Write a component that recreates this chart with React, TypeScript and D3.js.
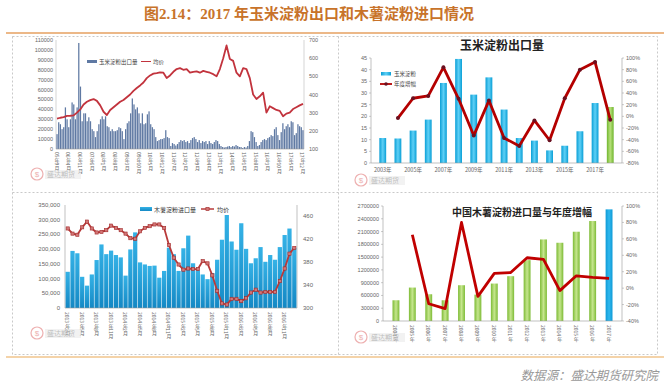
import * as d3 from "d3";

// ---------- top-left: monthly corn starch exports (t) and average price ----------
const tlExports = [
  15000, 27000, 25000, 20000, 22000, 42000, 30000, 22000, 30000, 47000, 45000, 30000, 42000, 107000, 63000, 28000,
  36000, 36000, 28000, 32000, 28000, 20000, 18000, 12000, 18000, 25000, 30000, 33000, 30000, 33000, 23000, 22000,
  18000, 20000, 18000, 18000, 19000, 22000, 21000, 18000, 10000, 20000, 26000, 28000, 36000, 51000, 45000, 40000,
  42000, 36000, 26000, 36000, 25000, 26000, 35000, 38000, 25000, 22000, 20000, 12000, 8000, 9000, 10000, 10000,
  11000, 19000, 12000, 11000, 3000, 6000, 5000, 3500, 5000, 7000, 9000, 8000, 9000, 7000, 8000, 6000, 9000, 11000,
  12000, 10000, 7000, 9000, 6000, 8000, 7000, 8000, 5000, 8000, 6000, 5000, 7000, 9000, 8000, 5000, 3000, 2000,
  1500, 2000, 2500, 3000, 2000, 3000, 2500, 4000, 3000, 2000, 2000, 1000, 2000, 1500, 3000, 8000, 18000, 17000,
  12000, 7000, 3000, 4000, 7000, 9000, 10000, 9000, 11000, 12000, 14000, 13000, 20000, 22000, 14000, 9000, 17000,
  26000, 20000, 23000, 25000, 22000, 28000, 27000, 14000, 16000, 25000, 23000, 22000, 19000,
];
const tlPrice = [
  267, 272, 275, 282, 283, 285, 300, 318, 345, 360, 369, 375, 365, 340, 305, 287, 315, 330, 345, 360, 370, 385, 400,
  420, 436, 450, 466, 490, 505, 515, 518, 522, 520, 491, 505, 525, 540, 545, 536, 540, 520, 525, 527, 520, 530, 525,
  520, 512, 500, 540, 600, 670, 595, 585, 520, 500, 545, 540, 490, 400, 375, 390, 410, 300, 335, 325, 315, 310, 280,
  295, 300, 320, 330, 340, 348,
];
const tlStart = { year: 2005, month: 9 };

// ---------- top-right: annual corn starch exports (10k t) and YoY ----------
const trYears = ["2003年", "2004年", "2005年", "2006年", "2007年", "2008年", "2009年", "2010年", "2011年", "2012年", "2013年", "2014年", "2015年", "2016年", "2017年", "2018年"];
const trExport = [10.7, 10.5, 13.9, 18.6, 34.3, 44.6, 29.3, 36.7, 22.9, 10.7, 9.6, 5.4, 7.4, 13.6, 25.7, 24.0];
const trGrowth = [null, -3, 31, 35, 84, 30, -33, 27, -37, -51, -7, -41, 31, 80, 93, -6];

// ---------- bottom-left: monthly cassava starch imports (t) and price ----------
const blStart = { year: 2013, month: 2 };
const blImport = [
  123000, 194000, 186000, 106000, 76000, 114000, 163000, 216000, 183000, 195000, 180000, 172000, 110000, 199000,
  257000, 155000, 148000, 143000, 144000, 103000, 126000, 205000, 183000, 126000, 203000, 246000, 152000, 129000,
  114000, 98000, 119000, 164000, 232000, 316000, 226000, 198000, 288000, 201000, 152000, 169000, 207000, 157000,
  180000, 164000, 207000, 248000, 270000, 205000,
];
const blPrice = [
  439, 430, 428, 441, 451, 439, 432, 433, 436, 444, 440, 436, 430, 422, 421, 434, 440, 443, 446, 446, 440, 410, 388,
  376, 367, 369, 368, 368, 382, 378, 357, 330, 308, 306, 316, 316, 312, 317, 327, 332, 327, 328, 328, 328, 347, 369,
  395, 405,
];

// ---------- bottom-right: annual cassava starch imports (t) and YoY ----------
const brYears = ["2004年", "2005年", "2006年", "2007年", "2008年", "2009年", "2010年", "2011年", "2012年", "2013年", "2014年", "2015年", "2016年", "2017年"];
const brImport = [487000, 785000, 628000, 487000, 840000, 620000, 879000, 1052000, 1429000, 1915000, 1837000, 2096000, 2347000, 2621000];
const brGrowth = [null, 65, -19, -25, 80, -10, 18, 19, 37, 35, -3, 15, 13, 12];

const SANS = "'Liberation Sans', Arial, 'Noto Sans CJK SC', sans-serif";
const CJK = "'Noto Sans CJK SC', sans-serif";
const AX = "#666";

function monthLabel(start: { year: number; month: number }, i: number, short: boolean) {
  const m0 = start.month - 1 + i;
  const y = start.year + Math.floor(m0 / 12);
  const m = (m0 % 12) + 1;
  return short ? `${String(y).slice(2)}年${m}月` : `${y}年${m}月`;
}

function Watermark({ x, y }: { x: number; y: number }) {
  return (
    <g opacity={0.55}>
      <circle cx={x} cy={y} r={6} fill="none" stroke="#e07070" strokeWidth={1.2} />
      <text x={x} y={y + 3} fontSize={8} fill="#e07070" textAnchor="middle" fontFamily={SANS}>$</text>
      <rect x={x + 8} y={y - 4} width={36} height={9} fill="#e8e8e8" />
      <text x={x + 10} y={y + 3} fontSize={7} fill="#888" fontFamily={CJK}>盛达期货</text>
    </g>
  );
}

function TopLeft() {
  const x0 = 56, x1 = 304, yT = 40, yB = 149;
  const x = d3.scaleBand<number>().domain(tlExports.map((_, i) => i)).range([x0, x1]).padding(0.25);
  const y = d3.scaleLinear().domain([0, 110000]).range([yB, yT]);
  const yr = d3.scaleLinear().domain([100, 700]).range([yB, yT]);
  const xl = d3.scaleLinear().domain([0, tlPrice.length - 1]).range([x0 + 1, x1 - 1]);
  const line = d3.line<number>().x((_, i) => xl(i)).y((d) => yr(d)).curve(d3.curveLinear);
  const labelIdx = d3.range(0, tlExports.length, 7);
  return (
    <g>
      {y.ticks(11).map((t) => (
        <text key={t} x={x0 - 3} y={y(t) + 2} fontSize={5.5} fill={AX} textAnchor="end" fontFamily={SANS}>{t}</text>
      ))}
      {yr.ticks(6).map((t) => (
        <text key={t} x={x1 + 5} y={yr(t) + 2} fontSize={5.5} fill={AX} fontFamily={SANS}>{t}</text>
      ))}
      <line x1={x0} x2={x0} y1={yT} y2={yB} stroke="#bbb" strokeWidth={0.6} />
      <line x1={x1} x2={x1} y1={yT} y2={yB} stroke="#bbb" strokeWidth={0.6} />
      {tlExports.map((v, i) => (
        <rect key={i} x={x(i)} y={y(v)} width={x.bandwidth()} height={yB - y(v)} fill="#5f79a3" />
      ))}
      <line x1={x0} x2={x1} y1={yB} y2={yB} stroke="#999" strokeWidth={0.6} />
      <path d={line(tlPrice) || ""} fill="none" stroke="#c2333d" strokeWidth={1.8} strokeLinejoin="round" />
      {labelIdx.map((i) => (
        <text key={i} x={(x(i) || 0) + x.bandwidth() / 2} y={yB + 3} fontSize={5} fill={AX} fontFamily={CJK}
          style={{ writingMode: "vertical-rl" }}>{monthLabel(tlStart, i, true)}</text>
      ))}
      <rect x={87} y={60} width={10} height={3} fill="#5f79a3" />
      <text x={99} y={63.5} fontSize={5.5} fill="#444" fontFamily={CJK}>玉米淀粉出口量</text>
      <line x1={141} x2={151} y1={61.5} y2={61.5} stroke="#c2333d" strokeWidth={1} />
      <text x={153} y={63.5} fontSize={5.5} fill="#444" fontFamily={CJK}>均价</text>
      <Watermark x={37} y={174} />
    </g>
  );
}

function TopRight() {
  const x0 = 371, x1 = 622, yT = 58, yB = 163;
  const x = d3.scaleBand().domain(trYears).range([x0, x1]).padding(0.55);
  const y = d3.scaleLinear().domain([0, 45]).range([yB, yT]);
  const yr = d3.scaleLinear().domain([-80, 100]).range([yB, yT]);
  const cx = (i: number) => (x(trYears[i]) || 0) + x.bandwidth() / 2;
  const pts = trGrowth.map((g, i) => ({ g, i })).filter((p) => p.g !== null) as { g: number; i: number }[];
  const line = d3.line<{ g: number; i: number }>().x((p) => cx(p.i)).y((p) => yr(p.g));
  return (
    <g>
      <defs>
        <linearGradient id="trCyan" x1="0" x2="1" y1="0" y2="0">
          <stop offset="0" stopColor="#0a9fd6" />
          <stop offset="0.5" stopColor="#5fd0f6" />
          <stop offset="1" stopColor="#0a9fd6" />
        </linearGradient>
        <linearGradient id="trGreen" x1="0" x2="1" y1="0" y2="0">
          <stop offset="0" stopColor="#6fb52e" />
          <stop offset="0.5" stopColor="#b7e07a" />
          <stop offset="1" stopColor="#6fb52e" />
        </linearGradient>
      </defs>
      <text x={502} y={50} fontSize={12} fontWeight="bold" fill="#222" textAnchor="middle" fontFamily={CJK}>玉米淀粉出口量</text>
      {y.ticks(9).map((t) => (
        <text key={t} x={x0 - 4} y={y(t) + 2} fontSize={5.5} fill={AX} textAnchor="end" fontFamily={SANS}>{t}</text>
      ))}
      {d3.range(-80, 101, 20).map((t) => (
        <g key={t}>
          <line x1={x1} x2={x1 + 2} y1={yr(t)} y2={yr(t)} stroke="#999" strokeWidth={0.5} />
          <text x={x1 + 4} y={yr(t) + 2} fontSize={5.5} fill={AX} fontFamily={SANS}>{t}%</text>
        </g>
      ))}
      {y.ticks(9).map((t) => (
        <line key={t} x1={x0 - 2} x2={x0} y1={y(t)} y2={y(t)} stroke="#999" strokeWidth={0.5} />
      ))}
      <line x1={x0} x2={x0} y1={yT} y2={yB} stroke="#999" strokeWidth={0.6} />
      <line x1={x1} x2={x1} y1={yT} y2={yB} stroke="#999" strokeWidth={0.6} />
      {trExport.map((v, i) => (
        <rect key={i} x={x(trYears[i])} y={y(v)} width={x.bandwidth()} height={yB - y(v)}
          fill={i === trExport.length - 1 ? "url(#trGreen)" : "url(#trCyan)"} />
      ))}
      <line x1={x0} x2={x1} y1={yB} y2={yB} stroke="#999" strokeWidth={0.6} />
      <path d={line(pts) || ""} fill="none" stroke="#b40000" strokeWidth={2.8} strokeLinejoin="round" />
      {pts.map((p) => (
        <circle key={p.i} cx={cx(p.i)} cy={yr(p.g)} r={2} fill="#6a1020" />
      ))}
      {trYears.map((l, i) => i % 2 === 0 ? (
        <text key={l} x={cx(i)} y={yB + 8.5} fontSize={5.5} fill={AX} textAnchor="middle" fontFamily={CJK}>{l}</text>
      ) : null)}
      <rect x={381} y={72} width={10} height={3.5} fill="url(#trCyan)" />
      <text x={394} y={76} fontSize={5.5} fill="#444" fontFamily={CJK}>玉米淀粉</text>
      <line x1={380} x2={392} y1={84} y2={84} stroke="#b40000" strokeWidth={1.8} />
      <circle cx={386} cy={84} r={1.8} fill="#6a1020" />
      <text x={394} y={86} fontSize={5.5} fill="#444" fontFamily={CJK}>年度增幅</text>
      <Watermark x={361} y={180} />
    </g>
  );
}

function BottomLeft() {
  const x0 = 65, x1 = 297, yT = 205, yB = 308;
  const idx = blImport.map((_, i) => i);
  const x = d3.scaleBand<number>().domain(idx).range([x0, x1]).padding(0.12);
  const y = d3.scaleLinear().domain([0, 350000]).range([yB, yT]);
  const yr = d3.scaleLinear().domain([300, 480]).range([yB, yT]);
  const cx = (i: number) => (x(i) || 0) + x.bandwidth() / 2;
  const line = d3.line<number>().x((_, i) => cx(i)).y((d) => yr(d));
  const fmt = d3.format(",");
  return (
    <g>
      <defs>
        <linearGradient id="blBlue" x1="0" x2="0" y1="0" y2="1">
          <stop offset="0" stopColor="#35b2e6" />
          <stop offset="1" stopColor="#1488c4" />
        </linearGradient>
      </defs>
      {y.ticks(7).map((t) => (
        <text key={t} x={x0 - 5} y={y(t) + 2} fontSize={6} fill={AX} textAnchor="end" fontFamily={SANS}>{fmt(t)}</text>
      ))}
      {[300, 340, 380, 420, 460].map((t) => (
        <text key={t} x={x1 + 6} y={yr(t) + 2} fontSize={6} fill={AX} fontFamily={SANS}>{t}</text>
      ))}
      <line x1={x0} x2={x0} y1={yT} y2={yB} stroke="#999" strokeWidth={0.6} />
      <line x1={x1} x2={x1} y1={yT} y2={yB} stroke="#999" strokeWidth={0.6} />
      {blImport.map((v, i) => (
        <rect key={i} x={x(i)} y={y(v)} width={x.bandwidth()} height={yB - y(v)} fill="url(#blBlue)" />
      ))}
      <line x1={x0} x2={x1} y1={yB} y2={yB} stroke="#999" strokeWidth={0.6} />
      <path d={line(blPrice) || ""} fill="none" stroke="#b93a3a" strokeWidth={1.8} strokeLinejoin="round" />
      {blPrice.map((v, i) => (
        <rect key={i} x={cx(i) - 1.6} y={yr(v) - 1.6} width={3.2} height={3.2} fill="#d37777" stroke="#a02828" strokeWidth={0.6} />
      ))}
      {d3.range(0, blImport.length, 3).map((i) => (
        <text key={i} x={cx(i)} y={yB + 4} fontSize={5} fill={AX} fontFamily={CJK}
          style={{ writingMode: "vertical-rl" }}>{monthLabel(blStart, i, false)}</text>
      ))}
      <rect x={140} y={207} width={12} height={4} fill="url(#blBlue)" />
      <text x={154} y={211.5} fontSize={6} fill="#333" fontFamily={CJK}>木薯淀粉进口量</text>
      <line x1={201} x2={214} y1={209} y2={209} stroke="#b93a3a" strokeWidth={1.5} />
      <rect x={205.9} y={207.4} width={3.2} height={3.2} fill="#d37777" stroke="#a02828" strokeWidth={0.6} />
      <text x={217} y={211.5} fontSize={6} fill="#333" fontFamily={CJK}>均价</text>
      <Watermark x={37} y={333} />
    </g>
  );
}

function BottomRight() {
  const x0 = 383, x1 = 622, yT = 206, yB = 321;
  const x = d3.scaleBand().domain(brYears).range([x0, x1]).padding(0.58);
  const y = d3.scaleLinear().domain([0, 2700000]).range([yB, yT]);
  const yr = d3.scaleLinear().domain([-40, 100]).range([yB, yT]);
  const cx = (i: number) => (x(brYears[i]) || 0) + x.bandwidth() / 2;
  const pts = brGrowth.map((g, i) => ({ g, i })).filter((p) => p.g !== null) as { g: number; i: number }[];
  const line = d3.line<{ g: number; i: number }>().x((p) => cx(p.i)).y((p) => yr(p.g));
  return (
    <g>
      <defs>
        <linearGradient id="brGreen" x1="0" x2="1" y1="0" y2="0">
          <stop offset="0" stopColor="#7dbb35" />
          <stop offset="0.5" stopColor="#c6e68e" />
          <stop offset="1" stopColor="#7dbb35" />
        </linearGradient>
        <linearGradient id="brBlue" x1="0" x2="1" y1="0" y2="0">
          <stop offset="0" stopColor="#0f9ad6" />
          <stop offset="0.5" stopColor="#2fb8ee" />
          <stop offset="1" stopColor="#0f9ad6" />
        </linearGradient>
      </defs>
      {d3.range(0, 2700001, 300000).map((t) => (
        <g key={t}>
          <line x1={x0 - 2} x2={x0} y1={y(t)} y2={y(t)} stroke="#999" strokeWidth={0.5} />
          <text x={x0 - 4} y={y(t) + 2} fontSize={5.5} fill={AX} textAnchor="end" fontFamily={SANS}>{t}</text>
        </g>
      ))}
      {d3.range(-40, 101, 20).map((t) => (
        <g key={t}>
          <line x1={x1} x2={x1 + 2} y1={yr(t)} y2={yr(t)} stroke="#999" strokeWidth={0.5} />
          <text x={x1 + 4} y={yr(t) + 2} fontSize={5.5} fill={AX} fontFamily={SANS}>{t}%</text>
        </g>
      ))}
      <line x1={x0} x2={x0} y1={yT} y2={yB} stroke="#999" strokeWidth={0.6} />
      <line x1={x1} x2={x1} y1={yT} y2={yB} stroke="#999" strokeWidth={0.6} />
      {brImport.map((v, i) => (
        <rect key={i} x={x(brYears[i])} y={y(v)} width={x.bandwidth()} height={yB - y(v)}
          fill={i === brImport.length - 1 ? "url(#brBlue)" : "url(#brGreen)"} />
      ))}
      <line x1={x0} x2={x1} y1={yB} y2={yB} stroke="#999" strokeWidth={0.6} />
      <path d={line(pts) || ""} fill="none" stroke="#c00000" strokeWidth={2.8} strokeLinejoin="round" />
      <text x={522} y={216} fontSize={10} fontWeight="bold" fill="#222" textAnchor="middle" fontFamily={CJK}>中国木薯淀粉进口量与年度增幅</text>
      {brYears.map((l, i) => (
        <text key={l} x={cx(i)} y={yB + 4} fontSize={5} fill={AX} fontFamily={CJK}
          style={{ writingMode: "vertical-rl" }}>{l}</text>
      ))}
      <Watermark x={361} y={337} />
    </g>
  );
}

export default function App() {
  return (
    <svg width={664} height={392} style={{ position: "absolute", left: 0, top: 0, background: "#fff" }}>
      <rect width={664} height={392} fill="#fff" />
      <text x={309} y={19} fontSize={15} fontWeight="bold" fill="#c8732a" textAnchor="middle"
        fontFamily="'Liberation Serif', 'Noto Sans CJK SC', serif">图2.14：2017 年玉米淀粉出口和木薯淀粉进口情况</text>
      <line x1={6} x2={664} y1={33} y2={33} stroke="#e6a060" strokeWidth={1.6} />
      <rect x={12.5} y={36.5} width={645} height={318} fill="none" stroke="#bbb" strokeWidth={0.8} strokeDasharray="2,2" />
      <line x1={338.5} x2={338.5} y1={36.5} y2={354.5} stroke="#bbb" strokeWidth={0.8} strokeDasharray="2,2" />
      <line x1={12.5} x2={657.5} y1={192.5} y2={192.5} stroke="#bbb" strokeWidth={0.8} strokeDasharray="2,2" />
      <line x1={6} x2={664} y1={357} y2={357} stroke="#f0c48c" strokeWidth={1.4} />
      <TopLeft />
      <TopRight />
      <BottomLeft />
      <BottomRight />
      <text x={658} y={380} fontSize={12.5} fontStyle="italic" fill="#999" textAnchor="end" fontFamily={CJK}>数据源：盛达期货研究院</text>
    </svg>
  );
}
